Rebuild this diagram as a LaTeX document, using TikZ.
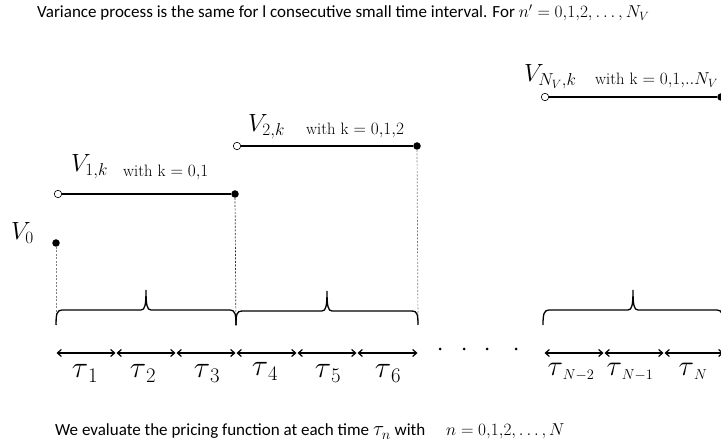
\documentclass[tikz,border=0pt]{standalone}
\usepackage{fontspec}
\newfontfamily\carlito{Carlito}
\usetikzlibrary{arrows.meta}
\newcommand{\taulab}[1]{${\mbox{\scalebox{1.22}{$\tau$}}}_{#1}$}
\newcommand{\taulabN}[1]{{\fontsize{22}{26}\selectfont${\mbox{\scalebox{1.38}{$\tau$}}}_{#1}$}}
\begin{document}
\begin{tikzpicture}[x=1pt,y=-1pt,
  fdot/.style={circle,fill=black,inner sep=0pt,minimum size=7.5pt},
  odot/.style={circle,draw=black,fill=white,line width=0.6pt,inner sep=0pt,minimum size=7.5pt},
  smalldot/.style={circle,fill=black,inner sep=0pt,minimum size=3pt},
  seg/.style={line width=1.4pt},
  vline/.style={dash pattern=on 2pt off 1.5pt,line width=0.7pt},
  brc/.style={line width=1.3pt},
  dbl/.style={line width=1.2pt,{Straight Barb[length=4pt,width=7pt]}-{Straight Barb[length=4pt,width=7pt]}},
  vlab/.style={font=\fontsize{24}{28}\selectfont,inner sep=0pt,anchor=base west},
  wlab/.style={font=\fontsize{16.5}{20}\selectfont,inner sep=0pt,anchor=base west},
  tlab/.style={font=\fontsize{24.88}{30}\selectfont,inner sep=0pt,anchor=base},
  ttl/.style={font=\carlito\fontsize{17}{20}\selectfont,inner sep=0pt,anchor=base west}]
\useasboundingbox (0,0) rectangle (721,446);
\clip (0,0) rectangle (721,446);

% title and bottom text
\node[ttl] (title) at (37,18) {Variance process is the same for l consecutive small time interval. For $n' = 0{,}1{,}2, \ldots, N_V$};
\node[ttl] (bottom) at (55,436) {We evaluate the pricing function at each time {\fontsize{20}{24}\selectfont$\tau_n$} with \quad $n = 0{,}1{,}2, \ldots, N$};

% V0
\node[vlab] (lv0) at (11,240) {$V_0$};
\node[fdot] (d0) at (56,243) {};
% V1
\node[odot] (o1) at (58,194) {};
\node[fdot] (f1) at (235,194) {};
\draw[seg] (o1) -- (f1);
\node[vlab] (lv1) at (71,172) {$V_{1,k}$};
\node[wlab] (w1) at (123,177) {with k $= 0{,}1$};
% V2
\node[odot] (o2) at (237,146) {};
\node[fdot] (f2) at (417,146) {};
\draw[seg] (o2) -- (f2);
\node[vlab] (lv2) at (248,132) {$V_{2,k}$};
\node[wlab] (w2) at (306,135) {with k $= 0{,}1{,}2$};
% VN
\node[odot] (o3) at (545,97) {};
\node[fdot] (f3) at (721,97) {};
\draw[seg] (o3) -- (f3);
\node[vlab] (lv3) at (524,82) {$V_{N_V,k}$};
\node[wlab] (w3) at (595,85) {with k $= 0{,}1{,}..N_V$};

% dashed verticals
\coordinate (b0) at (56,325);
\coordinate (b1) at (236,327);
\coordinate (b2) at (418,325);
\coordinate (b3) at (721,162);
\draw[vline,gray] (d0) -- (b0);
\draw[vline,black!80] (f1) -- (b1);
\draw[vline,gray] (f2) -- (b2);
\draw[vline,black!25] (f3) -- (b3);

% braces
\draw[brc] (56,325) .. controls (56,314) and (57,310) .. (62,310) -- (141,310)
  .. controls (145,310) and (146,305) .. (146,290) .. controls (146,305) and (147,310) .. (151,310)
  -- (230,310) .. controls (235,310) and (236,314) .. (236,325);
\draw[brc] (236,325) .. controls (236,314) and (237,311) .. (242,311) -- (322,311)
  .. controls (326,311) and (327,306) .. (327,291) .. controls (327,306) and (328,311) .. (332,311)
  -- (412,311) .. controls (417,311) and (418,314) .. (418,325);
\draw[brc] (543,325) .. controls (543,314) and (544,310) .. (549,310) -- (628,310)
  .. controls (632,310) and (633,305) .. (633,290) .. controls (633,305) and (634,310) .. (638,310)
  -- (717,310) .. controls (722,310) and (723,314) .. (723,325);

% double arrows
\foreach \i/\x in {0/56,1/116,2/176,3/236,4/297,5/357,6/418}{\coordinate (t\i) at (\x,353);}
\foreach \i/\x in {0/544,1/604,2/664,3/724}{\coordinate (r\i) at (\x,353);}
\foreach \a/\b in {t0/t1,t1/t2,t2/t3,t3/t4,t4/t5,t5/t6,r0/r1,r1/r2,r2/r3}{
  \draw[dbl,shorten >=0.5pt,shorten <=0.5pt] (\a) -- (\b);}

% dots
\node[smalldot] (p1) at (440,349) {};
\node[smalldot] (p2) at (464,349) {};
\node[smalldot] (p3) at (487,349) {};
\node[smalldot] (p4) at (516,349) {};

% tau labels
\node[tlab] (tau1) at (85,378) {\taulab{1}};
\node[tlab] (tau2) at (143,378) {\taulab{2}};
\node[tlab] (tau3) at (207,378) {\taulab{3}};
\node[tlab] (tau4) at (265,376) {\taulab{4}};
\node[tlab] (tau5) at (328,378) {\taulab{5}};
\node[tlab] (tau6) at (388,378) {\taulab{6}};
\node[tlab] (tauA) at (571,376) {\taulabN{N-2}};
\node[tlab] (tauB) at (630,376) {\taulabN{N-1}};
\node[tlab] (tauC) at (693,376) {\taulabN{N}};
\end{tikzpicture}
\end{document}
